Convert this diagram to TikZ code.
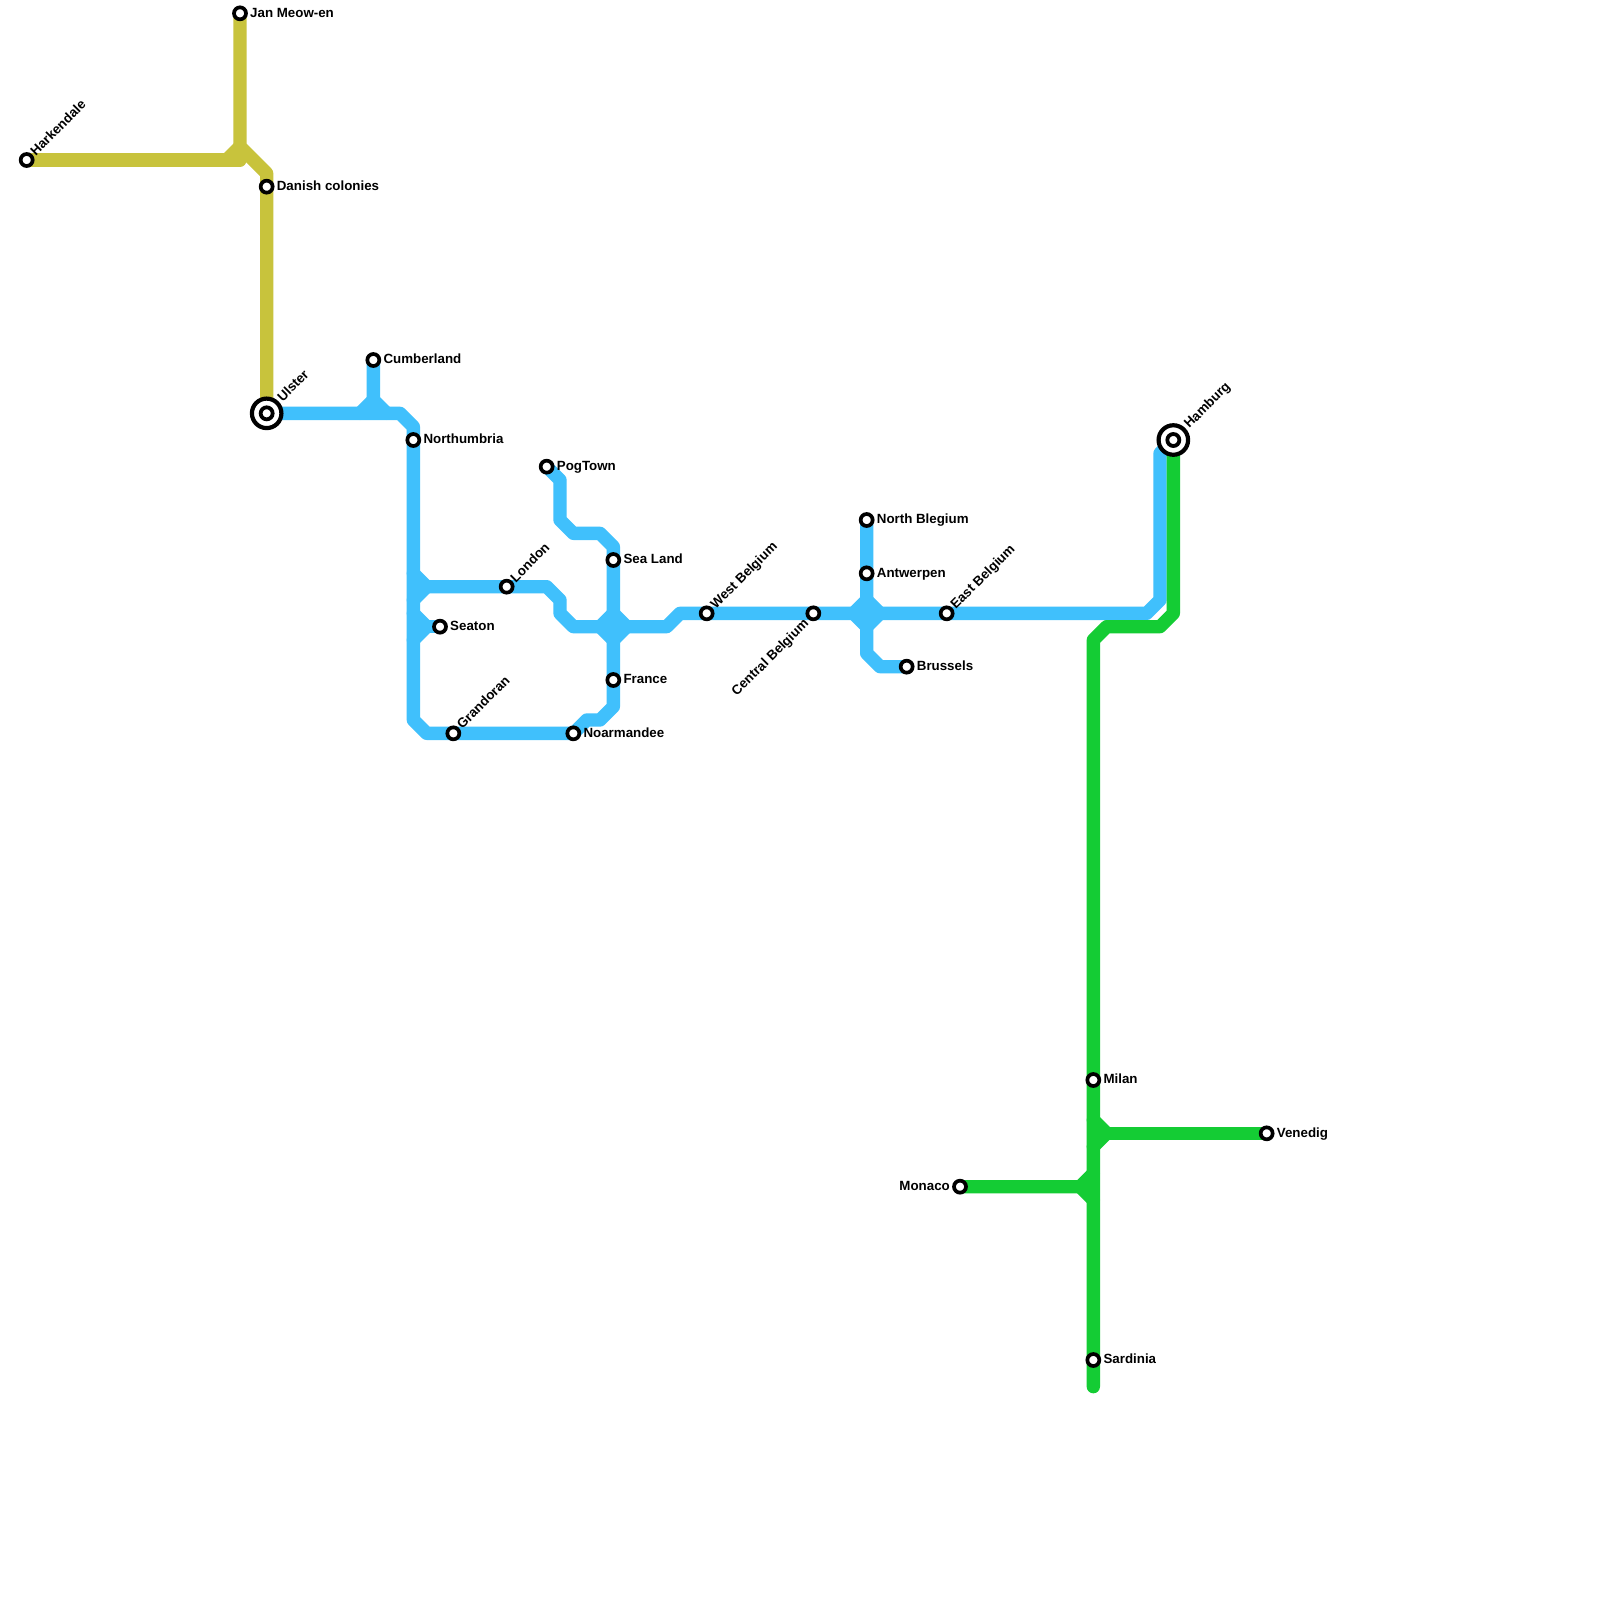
\documentclass[tikz,border=0pt]{standalone}
\usepackage{fontspec}
\setmainfont{Liberation Sans}
\pgfdeclarelayer{lines}
\pgfsetlayers{lines,main}
\definecolor{olive}{RGB}{200,195,60}
\definecolor{skyb}{RGB}{64,192,252}
\definecolor{grn}{RGB}{20,204,52}
\tikzset{
  mline/.style={line width=13.33pt,line cap=round,line join=round},
  oliveline/.style={mline,draw=olive},
  blueline/.style={mline,draw=skyb},
  greenline/.style={mline,draw=grn},
  station/.style={circle,draw=black,fill=white,line width=3.7pt,minimum size=12pt,inner sep=0pt,outer sep=0pt},
  hub/.style={circle,draw=black,fill=white,line width=4.2pt,minimum size=29.5pt,inner sep=0pt,outer sep=0pt,
    path picture={\draw[black,line width=3.8pt] (path picture bounding box.center) circle (6pt);}},
  lab/.style={font=\fontsize{13.33}{16}\selectfont\bfseries,text=black,inner sep=0pt},
  labr/.style={lab,xshift=10pt,yshift=-3.7pt,anchor=base west},
  labl/.style={lab,xshift=-10pt,yshift=-3.7pt,anchor=base east},
  labu/.style={lab,xshift=9pt,yshift=3.5pt,rotate=45,anchor=base west},
  labh/.style={lab,xshift=16pt,yshift=11pt,rotate=45,anchor=base west},
  labd/.style={lab,xshift=-4pt,yshift=-11pt,rotate=45,anchor=base east},
}
\begin{document}
\begin{tikzpicture}[x=13.3333pt,y=-13.3333pt]
\useasboundingbox (0,0) rectangle (120,120);
% stations
\node[station] (hark) at (2,12) {};
\node[station] (jan) at (18,1) {};
\node[station] (danish) at (20,14) {};
\node[hub] (ulster) at (20,31) {};
\node[station] (cumb) at (28,27) {};
\node[station] (north) at (31,33) {};
\node[station] (pog) at (41,35) {};
\node[station] (sealand) at (46,42) {};
\node[station] (london) at (38,44) {};
\node[station] (seaton) at (33,47) {};
\node[station] (france) at (46,51) {};
\node[station] (grand) at (34,55) {};
\node[station] (noar) at (43,55) {};
\node[station] (west) at (53,46) {};
\node[station] (central) at (61,46) {};
\node[station] (nbleg) at (65,39) {};
\node[station] (antw) at (65,43) {};
\node[station] (east) at (71,46) {};
\node[station] (bruss) at (68,50) {};
\node[hub] (hamb) at (88,33) {};
\node[station] (milan) at (82,81) {};
\node[station] (venedig) at (95,85) {};
\node[station] (monaco) at (72,89) {};
\node[station] (sard) at (82,102) {};
% labels
\node[labu] (lhark) at (hark.center) {Harkendale};
\node[labr] (ljan) at (jan.center) {Jan Meow-en};
\node[labr] (ldanish) at (danish.center) {Danish colonies};
\node[labh] (lulster) at (ulster.center) {Ulster};
\node[labr] (lcumb) at (cumb.center) {Cumberland};
\node[labr] (lnorth) at (north.center) {Northumbria};
\node[labr] (lpog) at (pog.center) {PogTown};
\node[labr] (lsea) at (sealand.center) {Sea Land};
\node[labu] (llondon) at (london.center) {London};
\node[labr] (lseaton) at (seaton.center) {Seaton};
\node[labr] (lfrance) at (france.center) {France};
\node[labu] (lgrand) at (grand.center) {Grandoran};
\node[labr] (lnoar) at (noar.center) {Noarmandee};
\node[labu] (lwest) at (west.center) {West Belgium};
\node[labd] (lcentral) at (central.center) {Central Belgium};
\node[labr] (lnbleg) at (nbleg.center) {North Blegium};
\node[labr] (lantw) at (antw.center) {Antwerpen};
\node[labu] (least) at (east.center) {East Belgium};
\node[labr] (lbruss) at (bruss.center) {Brussels};
\node[labh] (lhamb) at (hamb.center) {Hamburg};
\node[labr] (lmilan) at (milan.center) {Milan};
\node[labr] (lven) at (venedig.center) {Venedig};
\node[labl] (lmon) at (monaco.center) {Monaco};
\node[labr] (lsard) at (sard.center) {Sardinia};
% bends and ends
\coordinate (greenend) at (82,104);
\begin{pgfonlayer}{lines}
\fill[white] (0,0) rectangle (120,120);
% olive
\draw[oliveline] (hark.center) -- (18,12);
\draw[oliveline] (jan.center) -- (18,11) -- (20,13) -- (danish.center) -- (ulster.center);
\draw[oliveline] (17,12) -- (18,11);
% blue
\draw[blueline] (ulster.center) -- (30,31) -- (31,32) -- (north.center) -- (31,54) -- (32,55) -- (grand.center) -- (noar.center) -- (44,54) -- (45,54) -- (46,53) -- (france.center) -- (sealand.center) -- (46,41) -- (45,40) -- (43,40) -- (42,39) -- (42,36) -- (pog.center);
\draw[blueline] (cumb.center) -- (28,30) -- (29,31);
\draw[blueline] (28,30) -- (27,31);
\draw[blueline] (31,43) -- (32,44) -- (london.center) -- (41,44) -- (42,45) -- (42,46) -- (43,47) -- (50,47) -- (51,46) -- (west.center) -- (central.center) -- (east.center) -- (86,46) -- (87,45) -- (87,34) -- (hamb.center);
\draw[blueline] (32,44) -- (31,45);
\draw[blueline] (31,46) -- (32,47) -- (31,48);
\draw[blueline] (32,47) -- (seaton.center);
\draw[blueline,fill=skyb] (45,47) -- (46,46) -- (47,47) -- (46,48) -- cycle;
\draw[blueline,fill=skyb] (64,46) -- (65,45) -- (66,46) -- (65,47) -- cycle;
\draw[blueline] (nbleg.center) -- (antw.center) -- (65,49) -- (66,50) -- (bruss.center);
% green
\draw[greenline] (hamb.center) -- (88,46) -- (87,47) -- (83,47) -- (82,48) -- (milan.center) -- (sard.center) -- (greenend);
\draw[greenline] (82,84) -- (83,85) -- (82,86);
\draw[greenline] (83,85) -- (venedig.center);
\draw[greenline] (monaco.center) -- (81,89) -- (82,88);
\draw[greenline] (81,89) -- (82,90);
\end{pgfonlayer}
\end{tikzpicture}
\end{document}
